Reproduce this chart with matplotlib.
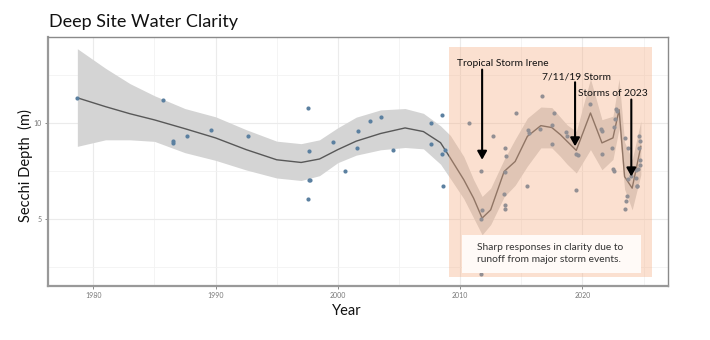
import matplotlib
matplotlib.use("Agg")
import matplotlib.pyplot as plt
from matplotlib.patches import Rectangle
import numpy as np

plt.rcParams['font.family'] = ['Lato', 'DejaVu Sans']

# Secchi depth observations at the deep site
obs_year = [1978.66, 1985.67, 1986.5, 1986.5, 1987.63, 1989.6, 1992.67,
            1997.6, 1997.63, 1997.66, 1997.7, 1997.58, 1999.62, 2000.6,
            2001.64, 2001.56, 2002.62, 2003.55, 2004.55, 2007.64, 2007.58,
            2008.48, 2008.48, 2008.75, 2008.59, 2010.69, 2011.70, 2011.75,
            2011.70, 2011.73, 2012.68, 2013.69, 2013.74, 2013.69, 2013.55,
            2013.69, 2013.66, 2014.59, 2015.51, 2015.56, 2015.6, 2016.52,
            2016.68, 2017.55, 2017.69, 2017.55, 2018.67, 2018.75, 2019.5,
            2019.64, 2019.49, 2020.66, 2021.53, 2021.6, 2021.63, 2022.45,
            2022.47, 2022.56, 2022.61, 2022.69, 2022.72, 2022.8, 2023.50,
            2023.69, 2023.69, 2023.63, 2023.58, 2023.5, 2024.40, 2024.4,
            2024.45, 2024.5, 2024.6, 2024.7, 2024.65, 2024.68, 2024.7,
            2024.55, 2024.0]
obs_depth = [11.31, 11.22, 9.05, 8.95, 9.30, 9.61, 9.30,
             10.80, 8.52, 7.02, 7.00, 6.01, 9.00, 7.47,
             9.60, 8.71, 10.12, 10.31, 8.59, 10.00, 8.90,
             10.42, 8.40, 8.59, 6.69, 10.02, 7.51, 5.47,
             4.98, 2.10, 9.30, 8.71, 8.29, 7.42, 6.31,
             5.71, 5.49, 10.52, 6.69, 9.61, 9.50, 9.69,
             11.43, 8.90, 10.52, 9.91, 9.53, 9.30, 8.40,
             8.31, 6.52, 11.01, 9.70, 9.60, 8.40, 8.69,
             7.61, 7.51, 9.79, 10.21, 10.73, 10.60, 9.21,
             8.69, 7.07, 6.20, 5.91, 5.51, 7.56, 7.13,
             6.72, 6.70, 9.30, 9.04, 8.70, 8.08, 7.80,
             7.60, 7.25]

# Smoothed trend with its confidence band
smooth_year = [1978.7, 1981.0, 1983.0, 1985.0, 1987.5, 1990.0, 1992.5, 1995.0,
               1997.0, 1998.5, 2000.0, 2001.5, 2003.5, 2005.5, 2007.0, 2008.4,
               2009.2, 2010.3, 2011.1, 2011.8, 2012.5, 2013.6, 2014.5, 2015.5,
               2016.6, 2017.5, 2018.2, 2018.75, 2019.5, 2020.66, 2021.6, 2022.5,
               2023.0, 2023.45, 2024.07, 2024.78]
smooth_fit = [11.31, 10.85, 10.48, 10.16, 9.70, 9.22, 8.61, 8.08,
              7.94, 8.12, 8.61, 9.05, 9.45, 9.74, 9.55, 8.97,
              8.17, 7.04, 6.08, 5.04, 5.47, 7.47, 7.99, 9.30,
              9.86, 9.76, 9.39, 9.04, 8.57, 10.52, 8.96, 9.22,
              10.69, 7.20, 6.60, 8.78]
smooth_lo = [8.78, 9.12, 9.12, 9.04, 8.45, 8.05, 7.55, 7.13,
             7.00, 7.25, 7.93, 8.32, 8.60, 8.72, 8.65, 7.85,
             7.10, 6.05, 5.05, 4.17, 4.70, 6.15, 6.75, 7.75,
             8.70, 8.70, 8.25, 7.85, 7.39, 8.61, 7.56, 8.10,
             9.70, 6.55, 5.47, 7.30]
smooth_hi = [13.87, 12.85, 12.05, 11.42, 10.75, 10.32, 9.65, 9.05,
             8.92, 9.12, 9.75, 10.30, 10.68, 10.75, 10.50, 9.85,
             9.35, 8.25, 7.05, 6.17, 6.60, 8.10, 9.15, 10.25,
             10.83, 10.80, 10.30, 9.90, 9.56, 12.30, 10.17, 10.35,
             12.30, 9.00, 8.08, 10.10]

# Storm annotations: label, label position, arrow x, arrow top, arrow tip
storm_labels = ["Tropical Storm Irene", "7/11/19 Storm", "Storms of 2023"]
label_x = [2009.78, 2016.71, 2019.6]
label_y = [13.1, 12.42, 11.55]
arrow_x = [2011.8, 2019.4, 2024.0]
arrow_top = [12.78, 12.12, 11.22]
arrow_tip = [8.08, 8.78, 7.21]

x_ticks = [1980, 1990, 2000, 2010, 2020]
y_ticks = [5, 10]

fig = plt.figure(figsize=(7.1, 3.4), dpi=100)
ax = fig.add_axes([48 / 710, 1 - 286 / 340, 620 / 710, 249 / 340])

ax.set_xlim(1976.3, 2027.0)
ax.set_ylim(1.5, 14.48)

# grid
ax.set_xticks(x_ticks)
ax.set_xticks([1985, 1995, 2005, 2015, 2025], minor=True)
ax.set_yticks(y_ticks)
ax.set_yticks([2.5, 7.5, 12.5], minor=True)
ax.grid(True, which='major', color='#ebebeb', lw=0.8, zorder=0)
ax.grid(True, which='minor', color='#f2f2f2', lw=0.6, zorder=0)
ax.set_axisbelow(True)
ax.tick_params(axis='both', which='major', labelsize=5, colors='#777777',
               length=2, width=0.6, pad=2.5)
ax.tick_params(axis='both', which='minor', length=0)

for side in ['top', 'right']:
    ax.spines[side].set_color('#8a8a8a')
    ax.spines[side].set_linewidth(1.0)
for side in ['bottom', 'left']:
    ax.spines[side].set_color('#999999')
    ax.spines[side].set_linewidth(1.6)

# smooth band + line + points
ax.fill_between(smooth_year, smooth_lo, smooth_hi, color='#d4d4d4', lw=0, zorder=2)
ax.plot(smooth_year, smooth_fit, color='#585858', lw=1.0, zorder=3)
ax.scatter(obs_year, obs_depth, s=9, color='#5b80a0', lw=0, zorder=4)

# highlighted storm period
ax.add_patch(Rectangle((2009.1, 1.98), 16.6, 11.98, facecolor='#f6ab7e',
                       alpha=0.36, lw=0, zorder=5))

for lab, lx, ly, axx, at, tip in zip(storm_labels, label_x, label_y,
                                       arrow_x, arrow_top, arrow_tip):
    ax.text(lx, ly, lab, fontsize=7.4, color='#111111', va='center', ha='left',
            zorder=7)
    ax.annotate('', xy=(axx, tip), xytext=(axx, at),
                arrowprops=dict(arrowstyle='-|>,head_length=0.5,head_width=0.28',
                                color='black', lw=1.5, shrinkA=0, shrinkB=0),
                zorder=7)

# note box
ax.add_patch(Rectangle((2010.17, 2.19), 14.66, 1.97, facecolor='#fffaf7',
                       lw=0, zorder=6))
ax.text(2011.4, 3.2, "Sharp responses in clarity due to\nrunoff from major storm events.",
        fontsize=7.4, color='#333333', va='center', ha='left', linespacing=1.45,
        zorder=7)

fig.text(49 / 710, 1 - 22 / 340, "Deep Site Water Clarity", fontsize=13,
         color='#111111', va='center', ha='left')
fig.text(25 / 710, 1 - 166 / 340, "Secchi Depth  (m)", fontsize=10.5,
         rotation=90, va='center', ha='center', color='#111111')
fig.text(347 / 710, 1 - 311 / 340, "Year", fontsize=10.5, va='center',
         ha='center', color='#111111')

fig.savefig("out.png", dpi=100, facecolor='white')
